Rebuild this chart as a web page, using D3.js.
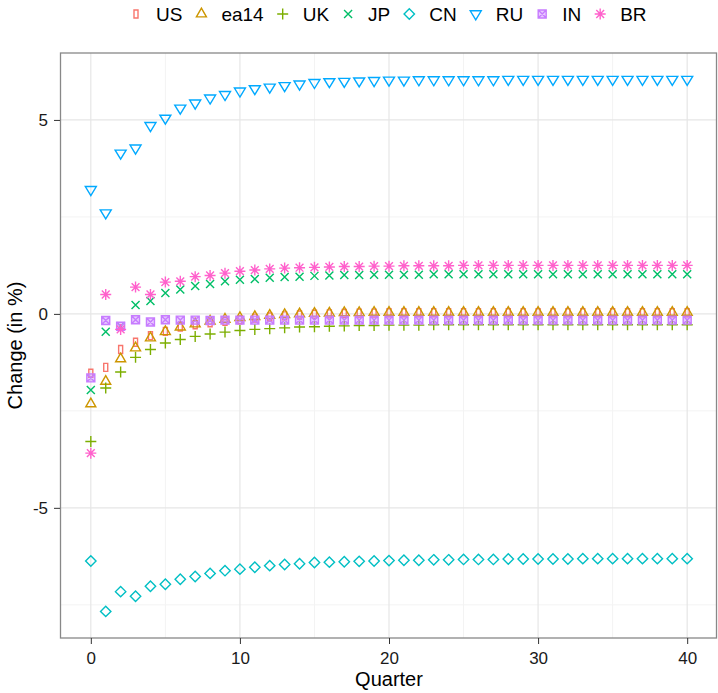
<!DOCTYPE html>
<html>
<head>
<meta charset="utf-8">
<script src="https://cdn.jsdelivr.net/npm/d3@7"></script>
<style>
  body { margin: 0; background: #fff; }
  svg text { font-family: "Liberation Sans", Arial, sans-serif; }
</style>
</head>
<body>
<div id="chart-area"></div>
<script>
// DATA
// ****

let quarters = d3.range(0, 41)
let countries = ["US", "ea14", "UK", "JP", "CN", "RU", "IN", "BR"]
let colors = ["#F8766D", "#CD9600", "#7CAE00", "#00BE67", "#00BFC4", "#00A9FF", "#C77CFF", "#FF61CC"]
let shapes = ["rect", "triUp", "plus", "cross", "diamond", "triDown", "squareCross", "asterisk"]

let US = [-1.53, -1.38, -0.92, -0.73, -0.56, -0.45, -0.34, -0.28, -0.23, -0.19, -0.15, -0.11, -0.08, -0.05, -0.03,
  -0.01, 0.00, 0.01, 0.02, 0.02, 0.03, 0.03, 0.03, 0.03, 0.03, 0.03, 0.03, 0.03, 0.03, 0.03,
  0.03, 0.03, 0.03, 0.03, 0.03, 0.03, 0.03, 0.03, 0.03, 0.03, 0.03]
let ea14 = [-2.32, -1.74, -1.16, -0.88, -0.62, -0.46, -0.34, -0.26, -0.19, -0.14, -0.10, -0.07, -0.04, -0.02, 0.00,
  0.01, 0.02, 0.03, 0.03, 0.04, 0.04, 0.04, 0.04, 0.04, 0.04, 0.04, 0.04, 0.04, 0.04, 0.04,
  0.04, 0.04, 0.04, 0.04, 0.04, 0.04, 0.04, 0.04, 0.04, 0.04, 0.04]
let UK = [-3.29, -1.91, -1.50, -1.12, -0.92, -0.75, -0.66, -0.58, -0.52, -0.47, -0.43, -0.40, -0.38, -0.36, -0.34,
  -0.33, -0.32, -0.31, -0.30, -0.30, -0.29, -0.29, -0.29, -0.28, -0.28, -0.28, -0.28, -0.28, -0.28, -0.28,
  -0.28, -0.28, -0.28, -0.28, -0.28, -0.28, -0.28, -0.28, -0.28, -0.28, -0.28]
let JP = [-1.96, -0.46, -0.32, 0.23, 0.33, 0.54, 0.63, 0.72, 0.77, 0.84, 0.88, 0.90, 0.93, 0.95, 0.96,
  0.98, 0.99, 1.00, 1.00, 1.01, 1.01, 1.01, 1.01, 1.02, 1.02, 1.02, 1.02, 1.02, 1.02, 1.02,
  1.02, 1.02, 1.02, 1.02, 1.02, 1.02, 1.02, 1.02, 1.02, 1.02, 1.02]
let CN = [-6.37, -7.67, -7.16, -7.28, -7.02, -6.97, -6.84, -6.77, -6.69, -6.62, -6.58, -6.53, -6.49, -6.46, -6.44,
  -6.41, -6.40, -6.39, -6.38, -6.37, -6.36, -6.35, -6.35, -6.34, -6.34, -6.33, -6.33, -6.33, -6.32, -6.32,
  -6.32, -6.32, -6.32, -6.31, -6.31, -6.31, -6.31, -6.31, -6.31, -6.31, -6.31]
let RU = [3.20, 2.60, 4.14, 4.27, 4.85, 5.04, 5.30, 5.43, 5.56, 5.65, 5.74, 5.80, 5.84, 5.88, 5.92,
  5.96, 5.98, 5.99, 6.00, 6.01, 6.02, 6.02, 6.03, 6.03, 6.03, 6.03, 6.03, 6.03, 6.04, 6.04,
  6.04, 6.04, 6.04, 6.04, 6.04, 6.04, 6.04, 6.04, 6.04, 6.04, 6.04]
let IN = [-1.65, -0.17, -0.32, -0.15, -0.21, -0.15, -0.16, -0.16, -0.17, -0.16, -0.16, -0.16, -0.16, -0.16, -0.16,
  -0.16, -0.16, -0.16, -0.16, -0.16, -0.16, -0.16, -0.16, -0.16, -0.16, -0.16, -0.16, -0.16, -0.16, -0.16,
  -0.16, -0.16, -0.16, -0.16, -0.16, -0.16, -0.16, -0.16, -0.16, -0.16, -0.16]
let BR = [-3.59, 0.50, -0.40, 0.69, 0.50, 0.82, 0.84, 0.96, 0.99, 1.05, 1.10, 1.13, 1.16, 1.18, 1.19,
  1.20, 1.21, 1.22, 1.22, 1.23, 1.23, 1.24, 1.24, 1.24, 1.24, 1.25, 1.25, 1.25, 1.25, 1.25,
  1.25, 1.25, 1.25, 1.25, 1.25, 1.25, 1.25, 1.25, 1.25, 1.25, 1.25]

let seriesValues = [US, ea14, UK, JP, CN, RU, IN, BR]
let xTicks = [0, 10, 20, 30, 40]
let xMinor = [5, 15, 25, 35]
let yTicks = [-5, 0, 5]
let yMinor = [-7.5, -2.5, 2.5]

// MARGINS & SCALES
// ****************

let width = 718
let height = 693
let panel = {left: 61, right: 717, top: 53, bottom: 638}

let svg = d3.select("#chart-area")
  .append("svg")
    .attr("width", width)
    .attr("height", height)

let allVals = seriesValues.flat()
let yMin = d3.min(allVals), yMax = d3.max(allVals)
let yPad = (yMax - yMin) * 0.05
let x = d3.scaleLinear().domain([-2, 42]).range([panel.left, panel.right])
let y = d3.scaleLinear().domain([yMin - yPad, yMax + yPad]).range([panel.bottom, panel.top])

// GRID
// ****

let grid = svg.append("g").attr("class", "grid")
grid.selectAll(".xminor").data(xMinor).enter().append("line")
  .attr("x1", d => x(d)).attr("x2", d => x(d))
  .attr("y1", panel.top).attr("y2", panel.bottom)
  .attr("stroke", "#f3f3f3").attr("stroke-width", 1)
grid.selectAll(".yminor").data(yMinor).enter().append("line")
  .attr("y1", d => y(d)).attr("y2", d => y(d))
  .attr("x1", panel.left).attr("x2", panel.right)
  .attr("stroke", "#f3f3f3").attr("stroke-width", 1)
grid.selectAll(".xmajor").data(xTicks).enter().append("line")
  .attr("x1", d => x(d)).attr("x2", d => x(d))
  .attr("y1", panel.top).attr("y2", panel.bottom)
  .attr("stroke", "#e6e6e6").attr("stroke-width", 1.2)
grid.selectAll(".ymajor").data(yTicks).enter().append("line")
  .attr("y1", d => y(d)).attr("y2", d => y(d))
  .attr("x1", panel.left).attr("x2", panel.right)
  .attr("stroke", "#e6e6e6").attr("stroke-width", 1.2)

// SHAPES
// ******

function shapePath(s) {
  switch (s) {
    case "rect": return "M-2,-4L2,-4L2,4L-2,4Z"
    case "triUp": return "M0,-5.8L5,2.9L-5,2.9Z"
    case "triDown": return "M0,5.8L5.5,-3.2L-5.5,-3.2Z"
    case "plus": return "M-5.5,0L5.5,0M0,-5.5L0,5.5"
    case "cross": return "M-4,-4L4,4M-4,4L4,-4"
    case "diamond": return "M0,-5.2L5.2,0L0,5.2L-5.2,0Z"
    case "squareCross": return "M-4,-4L4,-4L4,4L-4,4ZM-4,-4L4,4M-4,4L4,-4"
    case "asterisk": return "M-5.5,0L5.5,0M0,-5.5L0,5.5M-3.9,-3.9L3.9,3.9M-3.9,3.9L3.9,-3.9"
  }
}

// POINTS
// ******

let pts = svg.append("g").attr("class", "points")
countries.forEach((c, i) => {
  let data = quarters.map((q, j) => ({q: q, v: seriesValues[i][j]}))
  pts.append("g")
    .selectAll("path")
    .data(data)
    .enter()
    .append("path")
      .attr("transform", d => "translate(" + x(d.q) + "," + y(d.v) + ")")
      .attr("d", shapePath(shapes[i]))
      .attr("fill", shapes[i] === "squareCross" ? colors[i] : "none")
      .attr("fill-opacity", shapes[i] === "squareCross" ? 0.4 : 0)
      .attr("stroke", colors[i])
      .attr("stroke-width", 1.4)
})

// PANEL BORDER
// ************

svg.append("rect")
  .attr("x", panel.left - 0.5).attr("y", panel.top)
  .attr("width", panel.right - panel.left).attr("height", panel.bottom - panel.top)
  .attr("fill", "none").attr("stroke", "#888").attr("stroke-width", 1.3)

// AXES
// ****

let bottomAxis = d3.axisBottom(x).tickValues(xTicks).tickSize(6).tickPadding(8)
let gx = svg.append("g")
  .attr("class", "bottom axis")
  .attr("transform", "translate(0, " + panel.bottom + ")")
  .call(bottomAxis)
gx.select(".domain").remove()
gx.selectAll("line").attr("stroke", "#333")
gx.selectAll("text").attr("font-size", "17px").attr("fill", "#1a1a1a")
  .style("font-family", "Liberation Sans, Arial, sans-serif")

let leftAxis = d3.axisLeft(y).tickValues(yTicks).tickSize(6).tickPadding(6)
let gy = svg.append("g")
  .attr("class", "left axis")
  .attr("transform", "translate(" + (panel.left - 1) + ", 0)")
  .call(leftAxis)
gy.select(".domain").remove()
gy.selectAll("line").attr("stroke", "#333")
gy.selectAll("text").attr("font-size", "17px").attr("fill", "#1a1a1a")
  .style("font-family", "Liberation Sans, Arial, sans-serif")
  .text(d => d < 0 ? "-" + Math.abs(d) : d)

// LABELS
// ******

svg.append("text")
  .attr("x", (panel.left + panel.right) / 2)
  .attr("y", 686)
  .attr("font-size", "20px")
  .attr("text-anchor", "middle")
  .style("fill", "black")
  .text("Quarter")

svg.append("text")
  .attr("transform", "translate(22, " + ((panel.top + panel.bottom) / 2) + ") rotate(-90)")
  .attr("font-size", "20px")
  .attr("text-anchor", "middle")
  .style("fill", "black")
  .text("Change (in %)")

// LEGEND
// ******

let legend = svg.append("g").attr("class", "legend")
let lx = 136
countries.forEach((c, i) => {
  legend.append("path")
    .attr("transform", "translate(" + lx + ", 14)")
    .attr("d", shapePath(shapes[i]))
    .attr("fill", shapes[i] === "squareCross" ? colors[i] : "none")
    .attr("fill-opacity", shapes[i] === "squareCross" ? 0.4 : 0)
    .attr("stroke", colors[i])
    .attr("stroke-width", 1.4)
  let t = legend.append("text")
    .attr("x", lx + 20)
    .attr("y", 21)
    .attr("font-size", "19px")
    .style("fill", "black")
    .text(c)
  lx = lx + 20 + t.node().getComputedTextLength() + 19
})
</script>
</body>
</html>
